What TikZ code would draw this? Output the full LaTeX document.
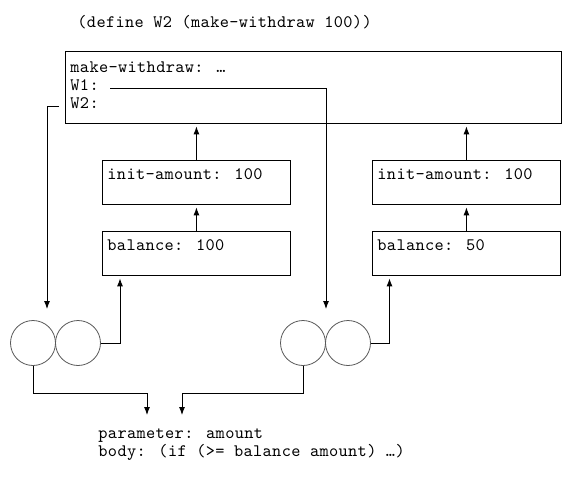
\documentclass[tikz,border=0pt]{standalone}
\usepackage{fontspec}
\newfontfamily\codefont{lmmono10-regular}[Extension=.otf,LetterSpace=2]
\usetikzlibrary{arrows.meta,calc}
\tikzset{
  code/.style={font=\codefont\fontsize{17.5}{18}\selectfont,inner sep=0pt,anchor=base west},
  envbox/.style={draw,line width=0.9pt,inner sep=0pt,anchor=north west},
  half/.style={circle,draw=black!65,line width=0.8pt,minimum size=45pt,inner sep=0pt},
}
\begin{document}
\begin{tikzpicture}[x=1pt,y=-1pt,>={Latex[length=8pt,width=6pt]},line width=0.9pt]
    \useasboundingbox (0,0) rectangle (571,477);
    \node[code] (def) at (77,27) {(define W2 (make-withdraw 100))};
    % global environment
    \node[envbox,minimum width=496pt,minimum height=72pt] (glob) at (65,51) {};
    \node[code] (mw) at (70,72) {make-withdraw: …};
    \node[code] (w1) at (70,90) {W1:};
    \node[code] (w2) at (70,108) {W2:};
    % frames
    \node[envbox,minimum width=188pt,minimum height=44pt] (initA) at (102,160) {};
    \node[envbox,minimum width=188pt,minimum height=44pt] (balA) at (102,231) {};
    \node[envbox,minimum width=188pt,minimum height=44pt] (initB) at (372,160) {};
    \node[envbox,minimum width=188pt,minimum height=44pt] (balB) at (372,231) {};
    \node[code] (initAt) at ($(initA.north west)+(5,19)$) {init-amount: 100};
    \node[code] (balAt) at ($(balA.north west)+(5,19.5)$) {balance: 100};
    \node[code] (initBt) at ($(initB.north west)+(5,19)$) {init-amount: 100};
    \node[code] (balBt) at ($(balB.north west)+(5,19.5)$) {balance: 50};
    % procedure objects
    \node[half] (pa1) at (33,343) {};
    \node[half] (pa2) at (78,343) {};
    \node[half] (pb1) at (303,343) {};
    \node[half] (pb2) at (348,343) {};
    \node[code,anchor=north west,align=left] (body) at (98,428) {parameter: amount\\body: (if (>= balance amount) …)};
    \coordinate (pain) at (47,309);
    \coordinate (pbin) at (326,309);
    \coordinate (bodyA) at (147,415);
    \coordinate (bodyB) at (182,415);
    \draw[->] ($(w1.base east)+(11,-2)$) -| (pbin);
    \draw[->] ($(glob.west |- w2.base)+(-6,-2)$) -| (pain);
    \foreach \s in {A,B}{
      \draw[->,shorten >=2.5pt] (bal\s.north) -- (init\s.south);
      \draw[->,shorten >=2.5pt] (init\s.north) -- (init\s.north |- glob.south);
    }
    \draw[->,shorten >=2.5pt] (pa2.east) -| ($(balA.south west)+(18,0)$);
    \draw[->,shorten >=2.5pt] (pb2.east) -| ($(balB.south west)+(17.5,0)$);
    \draw[->] (pa1.south) -- ++(0,28) -| (bodyA);
    \draw[->] (pb1.south) -- ++(0,28) -| (bodyB);
\end{tikzpicture}
\end{document}
